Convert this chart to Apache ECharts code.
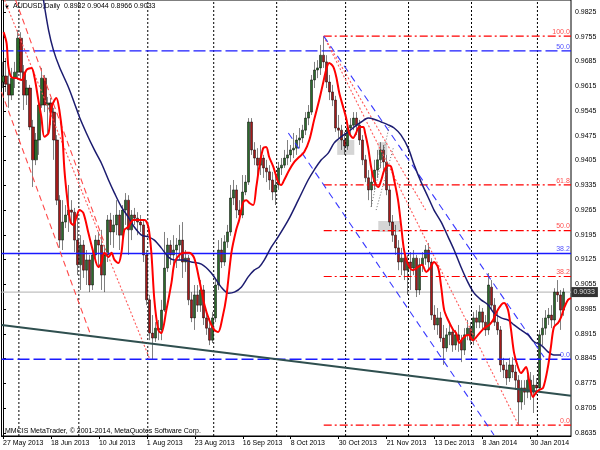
<!DOCTYPE html>
<html><head><meta charset="utf-8">
<script src="https://cdn.jsdelivr.net/npm/echarts@6/dist/echarts.min.js"></script>
<style>html,body{margin:0;padding:0;background:#fff}#c{width:600px;height:450px}</style>
</head><body><div id="c"></div>
<script>
const xLabels = ['27 May 2013','18 Jun 2013','10 Jul 2013','1 Aug 2013','23 Aug 2013','16 Sep 2013','8 Oct 2013','30 Oct 2013','21 Nov 2013','13 Dec 2013','8 Jan 2014','30 Jan 2014'];
const labelEvery = 16;
const barSlots = 190;
const yTicks = [0.8635,0.8705,0.8775,0.8845,0.8915,0.8985,0.9055,0.9125,0.9195,0.9265,0.9335,0.9405,0.9475,0.9545,0.9615,0.9685,0.9755,0.9825];
const yMin = 0.8626, yMax = 0.9859;
// [open, close, low, high]
const candles = [
[0.9627,0.9644,0.9610,0.9684],[0.9644,0.9621,0.9599,0.9695],[0.9621,0.9590,0.9554,0.9661],[0.9590,0.9638,0.9576,0.9667],
[0.9638,0.9655,0.9610,0.9684],[0.9655,0.9751,0.9633,0.9774],[0.9751,0.9655,0.9633,0.9768],[0.9655,0.9590,0.9548,0.9675],
[0.9590,0.9610,0.9562,0.9633],[0.9610,0.9500,0.9491,0.9619],[0.9500,0.9407,0.9330,0.9520],[0.9407,0.9463,0.9392,0.9483],
[0.9463,0.9562,0.9421,0.9576],[0.9562,0.9638,0.9554,0.9667],[0.9638,0.9562,0.9542,0.9647],[0.9562,0.9568,0.9483,0.9585],
[0.9568,0.9542,0.9505,0.9582],[0.9542,0.9463,0.9407,0.9554],[0.9463,0.9293,0.9279,0.9477],[0.9293,0.9180,0.9158,0.9307],
[0.9180,0.9231,0.9152,0.9293],[0.9231,0.9251,0.9214,0.9279],[0.9251,0.9265,0.9203,0.9336],[0.9265,0.9259,0.9223,0.9293],
[0.9259,0.9180,0.9146,0.9271],[0.9180,0.9110,0.9081,0.9259],[0.9110,0.9166,0.9039,0.9194],[0.9166,0.9095,0.9073,0.9180],
[0.9095,0.9124,0.9053,0.9152],[0.9124,0.9053,0.9033,0.9138],[0.9053,0.9138,0.9039,0.9152],[0.9138,0.9180,0.9118,0.9194],
[0.9180,0.9166,0.9101,0.9203],[0.9166,0.9081,0.9039,0.9209],[0.9081,0.9138,0.9033,0.9166],[0.9138,0.9237,0.9118,0.9251],
[0.9237,0.9203,0.9166,0.9257],[0.9203,0.9223,0.9158,0.9251],[0.9223,0.9251,0.9194,0.9293],[0.9251,0.9194,0.9152,0.9265],
[0.9194,0.9265,0.9180,0.9279],[0.9265,0.9293,0.9223,0.9313],[0.9293,0.9209,0.9138,0.9307],[0.9209,0.9251,0.9180,0.9265],
[0.9251,0.9242,0.9223,0.9271],[0.9242,0.9231,0.9194,0.9259],[0.9231,0.9223,0.9203,0.9251],[0.9223,0.9138,0.9118,0.9237],
[0.9138,0.9011,0.8996,0.9152],[0.9011,0.8917,0.8897,0.9025],[0.8917,0.8903,0.8841,0.8968],[0.8903,0.8931,0.8892,0.8948],
[0.8931,0.8926,0.8897,0.8954],[0.8926,0.8982,0.8897,0.9011],[0.8982,0.9101,0.8977,0.9203],[0.9101,0.9166,0.9090,0.9186],
[0.9166,0.9138,0.9110,0.9180],[0.9138,0.9152,0.9107,0.9194],[0.9152,0.9166,0.9101,0.9186],[0.9166,0.9180,0.9124,0.9223],
[0.9180,0.9118,0.9073,0.9231],[0.9118,0.9129,0.9090,0.9152],[0.9129,0.9011,0.8996,0.9138],[0.9011,0.8960,0.8948,0.9033],
[0.8960,0.9025,0.8926,0.9053],[0.9025,0.8996,0.8977,0.9053],[0.8996,0.9039,0.8977,0.9067],[0.9039,0.8960,0.8940,0.9053],
[0.8960,0.8931,0.8912,0.8977],[0.8931,0.8897,0.8883,0.8960],[0.8897,0.8960,0.8889,0.8977],[0.8960,0.9053,0.8948,0.9067],
[0.9053,0.9152,0.9039,0.9180],[0.9152,0.9118,0.9101,0.9186],[0.9118,0.9175,0.9107,0.9194],[0.9175,0.9203,0.9158,0.9223],
[0.9203,0.9299,0.9192,0.9336],[0.9299,0.9322,0.9279,0.9350],[0.9322,0.9265,0.9242,0.9336],[0.9265,0.9251,0.9237,0.9293],
[0.9251,0.9316,0.9242,0.9364],[0.9316,0.9344,0.9307,0.9364],[0.9344,0.9514,0.9336,0.9525],[0.9514,0.9435,0.9421,0.9525],
[0.9435,0.9412,0.9392,0.9457],[0.9412,0.9392,0.9364,0.9440],[0.9392,0.9412,0.9364,0.9449],[0.9412,0.9384,0.9356,0.9421],
[0.9384,0.9373,0.9344,0.9407],[0.9373,0.9350,0.9322,0.9392],[0.9350,0.9316,0.9293,0.9373],[0.9316,0.9336,0.9279,0.9364],
[0.9336,0.9384,0.9322,0.9401],[0.9384,0.9392,0.9364,0.9412],[0.9392,0.9412,0.9384,0.9435],[0.9412,0.9421,0.9392,0.9463],
[0.9421,0.9435,0.9401,0.9449],[0.9435,0.9440,0.9412,0.9483],[0.9440,0.9463,0.9421,0.9477],[0.9463,0.9469,0.9440,0.9497],
[0.9469,0.9491,0.9455,0.9506],[0.9491,0.9525,0.9477,0.9542],[0.9525,0.9542,0.9505,0.9562],[0.9542,0.9633,0.9534,0.9647],
[0.9633,0.9661,0.9610,0.9684],[0.9661,0.9667,0.9638,0.9689],[0.9667,0.9703,0.9647,0.9732],[0.9703,0.9684,0.9667,0.9757],
[0.9684,0.9627,0.9610,0.9703],[0.9627,0.9599,0.9576,0.9647],[0.9599,0.9576,0.9559,0.9619],[0.9576,0.9497,0.9486,0.9588],
[0.9497,0.9491,0.9469,0.9534],[0.9491,0.9463,0.9435,0.9506],[0.9463,0.9446,0.9421,0.9486],[0.9446,0.9497,0.9435,0.9514],
[0.9497,0.9505,0.9477,0.9525],[0.9505,0.9525,0.9491,0.9542],[0.9525,0.9505,0.9477,0.9542],[0.9505,0.9463,0.9449,0.9520],
[0.9463,0.9407,0.9392,0.9477],[0.9407,0.9356,0.9344,0.9421],[0.9356,0.9322,0.9293,0.9378],[0.9322,0.9344,0.9274,0.9373],
[0.9344,0.9378,0.9322,0.9407],[0.9378,0.9407,0.9356,0.9435],[0.9407,0.9435,0.9384,0.9457],[0.9435,0.9401,0.9378,0.9449],
[0.9401,0.9322,0.9307,0.9421],[0.9322,0.9231,0.9220,0.9336],[0.9231,0.9194,0.9175,0.9251],[0.9194,0.9158,0.9138,0.9223],
[0.9158,0.9118,0.9095,0.9180],[0.9118,0.9129,0.9081,0.9158],[0.9129,0.9095,0.9067,0.9146],[0.9095,0.9118,0.9025,0.9138],
[0.9118,0.9101,0.9039,0.9146],[0.9101,0.9129,0.9081,0.9152],[0.9129,0.9039,0.9019,0.9138],[0.9039,0.9110,0.9025,0.9129],
[0.9110,0.9129,0.9090,0.9146],[0.9129,0.9152,0.9110,0.9166],[0.9152,0.9118,0.9095,0.9172],[0.9118,0.8968,0.8954,0.9129],
[0.8968,0.8940,0.8926,0.8996],[0.8940,0.8960,0.8912,0.8988],[0.8960,0.8903,0.8892,0.8977],[0.8903,0.8875,0.8827,0.8940],
[0.8875,0.8912,0.8864,0.8931],[0.8912,0.8920,0.8883,0.8948],[0.8920,0.8883,0.8864,0.8931],[0.8883,0.8912,0.8869,0.8926],
[0.8912,0.8897,0.8864,0.8940],[0.8897,0.8869,0.8835,0.8912],[0.8869,0.8912,0.8855,0.8931],[0.8912,0.8931,0.8897,0.8954],
[0.8931,0.8897,0.8883,0.8948],[0.8897,0.8960,0.8883,0.8977],[0.8960,0.8948,0.8931,0.8982],[0.8948,0.8977,0.8931,0.8996],
[0.8977,0.8948,0.8926,0.8988],[0.8948,0.8926,0.8909,0.8968],[0.8926,0.9053,0.8912,0.9087],[0.9047,0.8996,0.8982,0.9067],
[0.8996,0.8948,0.8937,0.9016],[0.8948,0.8926,0.8912,0.8977],[0.8926,0.8827,0.8807,0.8937],[0.8827,0.8813,0.8790,0.8847],
[0.8813,0.8790,0.8770,0.8835],[0.8790,0.8827,0.8779,0.8847],[0.8827,0.8807,0.8790,0.8849],[0.8807,0.8784,0.8756,0.8827],
[0.8784,0.8722,0.8657,0.8798],[0.8722,0.8762,0.8700,0.8784],[0.8762,0.8750,0.8714,0.8784],[0.8750,0.8784,0.8733,0.8798],
[0.8784,0.8750,0.8728,0.8807],[0.8750,0.8770,0.8691,0.8798],[0.8770,0.8762,0.8742,0.8790],[0.8762,0.8912,0.8750,0.8926],
[0.8912,0.8931,0.8883,0.8960],[0.8931,0.8960,0.8912,0.8982],[0.8960,0.8968,0.8940,0.8988],[0.8968,0.8954,0.8931,0.8996],
[0.8954,0.9033,0.8940,0.9044],[0.9033,0.9025,0.9005,0.9067],[0.9025,0.8982,0.8926,0.9039],[0.8982,0.9033,0.8966,0.9044]
];
// [bar index, price]
const fastMA = [
[0.2,0.9768],[1.2,0.9737],[1.8,0.9670],[2.8,0.9641],[4.5,0.9638],[6.2,0.9633],[7.8,0.9661],[9.5,0.9667],[10.5,0.9641],
[11.8,0.9576],[12.8,0.9528],[13.8,0.9472],[15.2,0.9483],[16.2,0.9556],[17.8,0.9582],[18.8,0.9548],[19.8,0.9477],[20.5,0.9378],
[21.5,0.9293],[22.5,0.9231],[23.5,0.9223],[24.5,0.9245],[25.5,0.9265],[26.8,0.9257],[28.5,0.9200],[30.2,0.9144],[31.8,0.9104],
[32.8,0.9115],[33.8,0.9144],[35.2,0.9132],[36.2,0.9144],[37.2,0.9124],[38.5,0.9115],[39.5,0.9144],[40.5,0.9209],[41.8,0.9217],
[43.5,0.9237],[45.2,0.9237],[47.2,0.9237],[48.5,0.9217],[49.5,0.9144],[50.5,0.9011],[51.8,0.8926],[52.8,0.8917],[54.5,0.8982],
[56.2,0.9059],[57.2,0.9115],[58.8,0.9138],[60.5,0.9144],[62.2,0.9144],[63.8,0.9129],[65.5,0.9067],[67.2,0.8997],[68.8,0.8954],
[70.5,0.8926],[71.8,0.8920],[73.2,0.8960],[74.5,0.9019],[76.2,0.9144],[77.8,0.9209],[78.8,0.9237],[80.2,0.9288],[81.2,0.9293],
[82.2,0.9285],[83.5,0.9279],[84.5,0.9330],[85.5,0.9387],[86.8,0.9440],[87.8,0.9443],[88.8,0.9415],[90.2,0.9387],[91.8,0.9344],
[92.8,0.9336],[93.8,0.9350],[95.5,0.9378],[97.2,0.9401],[98.8,0.9415],[100.5,0.9429],[102.2,0.9463],[103.8,0.9520],[105.5,0.9576],
[106.8,0.9624],[107.8,0.9661],[108.8,0.9681],[110.2,0.9670],[111.2,0.9641],[112.2,0.9596],[113.5,0.9556],[114.5,0.9525],[115.5,0.9483],
[116.8,0.9469],[117.8,0.9483],[118.8,0.9500],[120.2,0.9500],[120.8,0.9483],[121.8,0.9443],[122.8,0.9387],[123.8,0.9350],[125.2,0.9330],
[126.2,0.9350],[127.2,0.9378],[128.5,0.9392],[129.5,0.9387],[130.5,0.9350],[131.8,0.9293],[132.8,0.9223],[133.8,0.9152],[135.2,0.9110],
[136.8,0.9095],[138.5,0.9104],[139.8,0.9110],[141.2,0.9090],[142.5,0.9101],[143.8,0.9118],[145.2,0.9101],[146.2,0.9047],[147.2,0.8982],
[148.5,0.8954],[150.2,0.8926],[151.2,0.8917],[152.2,0.8889],[153.5,0.8903],[155.2,0.8912],[156.8,0.8897],[158.5,0.8912],[160.5,0.8931],
[162.2,0.8940],[163.5,0.8954],[164.5,0.8974],[166.2,0.8997],[167.2,0.9002],[168.5,0.8982],[169.5,0.8926],[170.5,0.8861],[171.8,0.8821],
[172.8,0.8804],[174.5,0.8821],[175.5,0.8784],[176.8,0.8736],[177.8,0.8748],[178.8,0.8756],[180.2,0.8762],[181.8,0.8821],[182.8,0.8878],
[183.8,0.8934],[185.2,0.8946],[186.2,0.8962],[187.2,0.8988],[188.5,0.9011],[189.5,0.9016]
];
const slowMA = [
[13.5,0.9859],[15.2,0.9774],[16.8,0.9718],[18.8,0.9670],[21.8,0.9613],[23.8,0.9568],[25.5,0.9528],[27.8,0.9483],[30.5,0.9435],
[32.8,0.9398],[35.2,0.9350],[37.2,0.9313],[39.5,0.9274],[41.8,0.9245],[43.8,0.9217],[46.2,0.9194],[48.5,0.9189],[50.5,0.9180],
[52.8,0.9158],[55.2,0.9132],[57.2,0.9124],[60.2,0.9124],[62.8,0.9118],[66.2,0.9112],[69.5,0.9087],[72.8,0.9047],[75.2,0.9030],
[77.2,0.9033],[79.5,0.9047],[81.8,0.9076],[83.8,0.9095],[85.5,0.9104],[87.2,0.9124],[89.5,0.9160],[91.8,0.9189],[95.2,0.9237],
[98.5,0.9293],[101.8,0.9350],[103.8,0.9378],[106.2,0.9407],[108.5,0.9426],[110.5,0.9455],[112.8,0.9472],[115.2,0.9486],[117.2,0.9500],
[119.5,0.9514],[121.8,0.9525],[123.8,0.9522],[126.2,0.9514],[128.5,0.9506],[130.5,0.9497],[132.8,0.9477],[135.2,0.9440],[137.2,0.9392],
[139.5,0.9344],[141.8,0.9302],[143.8,0.9265],[146.2,0.9231],[148.5,0.9189],[150.5,0.9152],[152.8,0.9104],[155.2,0.9059],[157.2,0.9030],
[159.5,0.9011],[161.8,0.8997],[163.8,0.8974],[166.2,0.8960],[168.5,0.8954],[170.5,0.8940],[172.8,0.8926],[175.2,0.8912],[177.2,0.8892],
[179.5,0.8883],[181.8,0.8864],[183.8,0.8855],[186.2,0.8855]
];
const monthStarts = [5,25,48,70,91,114,135,156,178];
const trendLine = [[-0.5,0.8940],[189.5,0.8740]];
const blueLevels = [['50.0',0.9715,'dashed'],['38.2',0.9142,'solid'],['0.0',0.8843,'dashed']];
const redFibStart = 107;
const redFibLevels = [['100.0',0.9757],['61.8',0.9336],['50.0',0.9207],['38.2',0.9077],['0.0',0.8657]];
const redDashed = [[[-0.5,0.9599],[29.5,0.8906]],[[4.2,0.9859],[33.8,0.9172]]];
const redDotted = [[[0.5,0.9859],[48.8,0.8847]],[[107,0.9757],[172,0.8657]],[[107,0.9757],[141,0.9265]]];
const blueDashed = [[[107,0.9757],[180.5,0.8849]],[[95.2,0.9483],[163.8,0.8629]]];
const greyDotted = [[[122.8,0.9274],[128.8,0.9500]],[[124.5,0.9265],[130.2,0.9440]]];
const greyBoxes = [[111.5,117.2,0.9463,0.9421],[125.2,128.2,0.9457,0.9421],[125.2,132.5,0.9234,0.9203]];

const FONT = '"Liberation Sans", Arial, sans-serif';
const last = candles[candles.length-1];
const lastClose = last[1];
const cats = Array.from({length: barSlots}, (_, i) => String(i));
const xMaxV = barSlots - 0.5;

const BLUE = '#1a1aff', RED = '#ff0000', CLEAR = 'rgba(0,0,0,0)';
const segSeries = (pts, ls, z) => ({type:'line', xAxisIndex:1, data: pts, showSymbol:false, silent:true, animation:false,
  color: ls.color, lineStyle: ls, itemStyle:{color: ls.color}, z: z});

const series = [];
monthStarts.forEach(m => series.push(segSeries([[m + 0.3, yMin], [m + 0.3, yMax]], {color:'#000', width:1, type:[2,2]}, 1)));
series.push({type:'line', xAxisIndex:1, data:[[-0.5, lastClose], [xMaxV, lastClose]], showSymbol:false, silent:true,
  color:'#c0c0c0', lineStyle:{color:'#c0c0c0', width:1.2}, z:2,
  markArea:{silent:true, itemStyle:{color:'rgba(185,185,185,0.6)'},
    data: greyBoxes.map(b => [{coord:[b[0], b[2]]}, {coord:[b[1], b[3]]}])}});
series.push({type:'candlestick', xAxisIndex:0, data:candles, barWidth:2.6, z:3,
  itemStyle:{color:'#2b6b2b', color0:'#a41a1a', borderColor:'#000', borderColor0:'#000', borderWidth:0.5}});
blueLevels.forEach(b => series.push(segSeries([[-0.5, b[1]], [xMaxV, b[1]]], {color:BLUE, width:1.4, type: b[2]==='solid' ? 'solid' : [12,4]}, 4)));
redFibLevels.forEach(r => series.push(segSeries([[redFibStart, r[1]], [xMaxV, r[1]]], {color:RED, width:1.2, type:[8,3,2,3]}, 4)));
redDashed.forEach(p => series.push(segSeries(p, {color:'#ff4a4a', width:1.1, type:[6,4]}, 4)));
redDotted.forEach(p => series.push(segSeries(p, {color:'#ff5a5a', width:1.1, type:[2,2]}, 4)));
blueDashed.forEach(p => series.push(segSeries(p, {color:'#3a3aff', width:1.1, type:[7,5]}, 4)));
greyDotted.forEach(p => series.push(segSeries(p, {color:'#707070', width:1, type:[1,2]}, 4)));
series.push(segSeries(trendLine, {color:'#2f4f4f', width:2}, 5));
series.push({type:'line', xAxisIndex:1, data:slowMA, showSymbol:false, smooth:0.3, silent:true, z:6,
  color:'#1c1c70', lineStyle:{color:'#1c1c70', width:1.5}});
series.push({type:'line', xAxisIndex:1, data:fastMA, showSymbol:false, smooth:0.3, silent:true, z:7,
  color:RED, lineStyle:{color:RED, width:2}});
// level labels
const lvlLabels = blueLevels.map(b => ({value:[xMaxV - 0.4, b[1]], label:{formatter:b[0], color:BLUE}}))
  .concat(redFibLevels.map(r => ({value:[xMaxV - 0.4, r[1]], label:{formatter:r[0], color:'#ff2020'}})));
series.push({type:'scatter', xAxisIndex:1, data:lvlLabels, symbolSize:1, itemStyle:{color:CLEAR}, silent:true, z:8, clip:false,
  label:{show:true, position:'top', align:'right', verticalAlign:'bottom', distance:0, fontSize:7, fontFamily:FONT}});
series.push({type:'scatter', xAxisIndex:1, data:[[xMaxV, lastClose]], symbolSize:1, itemStyle:{color:CLEAR}, silent:true, z:9, clip:false,
  label:{show:true, position:'right', distance:0, formatter: lastClose.toFixed(4), backgroundColor:'#000', color:'#fff',
    fontSize:7, fontFamily:FONT, padding:[2,3,1,2]}});

const chart = echarts.init(document.getElementById('c'), null, {renderer:'canvas'});
chart.setOption({
  animation:false,
  backgroundColor:'#fff',
  grid:{left:1, right:29, top:0, bottom:14, show:true, borderColor:'#000', borderWidth:1, backgroundColor:'#fff'},
  xAxis:[
    {type:'category', data:cats, boundaryGap:true,
     axisLine:{lineStyle:{color:'#000', width:1}},
     axisTick:{show:true, interval:(i)=> i % labelEvery === 0, alignWithLabel:true, length:3, lineStyle:{color:'#000'}},
     axisLabel:{interval:(i)=> i % labelEvery === 0, formatter:(v, i)=> xLabels[Math.round(i/labelEvery)] || '', align:'left',
       fontSize:7, fontFamily:FONT, color:'#000', margin:4, hideOverlap:false},
     splitLine:{show:false}},
    {type:'value', min:-0.5, max:xMaxV, show:false}
  ],
  yAxis:{type:'value', position:'right', min:yMin, max:yMax,
    axisLine:{show:true, lineStyle:{color:'#000', width:1}},
    axisTick:{show:true, length:3, customValues:yTicks, lineStyle:{color:'#000'}},
    axisLabel:{customValues:yTicks, formatter:(v)=> v.toFixed(4), fontSize:7, fontFamily:FONT, color:'#000', margin:4},
    splitLine:{show:false}},
  series: series,
  graphic:[
    {type:'text', left:4, top:4, style:{text:'▼', fontSize:6, fill:'#000'}},
    {type:'text', left:13, top:3, style:{text:'AUDUSD,Daily  ' + [last[0], last[3], last[2], last[1]].map(v=>v.toFixed(4)).join(' '),
      fontSize:7, fontFamily:FONT, fill:'#000'}},
    {type:'text', left:5, top:428, style:{text:'MMCIS MetaTrader, © 2001-2014, MetaQuotes Software Corp.', fontSize:7, fontFamily:FONT, fill:'#000'}}
  ]
});
</script>
</body></html>
